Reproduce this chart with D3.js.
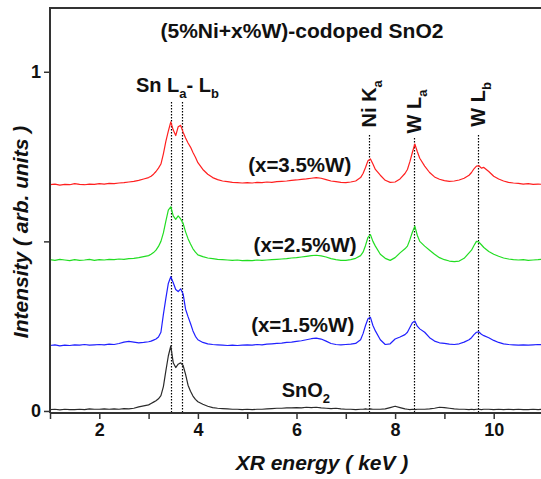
<!DOCTYPE html>
<html>
<head>
<meta charset="utf-8">
<script src="https://d3js.org/d3.v7.min.js"></script>
<style>
body { margin: 0; background: #fff; }
text { font-family: "Liberation Sans", Arial, sans-serif; font-weight: bold; fill: #111; }
</style>
</head>
<body>
<svg width="541" height="479"></svg>
<script>
// energy grid (keV), shared by all spectra
const energy = [
  1.0,1.1,1.2,1.3,1.4,1.5,1.6,1.7,1.8,1.9,2.0,2.1,2.2,2.3,2.4,2.5,2.6,2.7,2.8,2.9,
  3.0,3.05,3.1,3.15,3.2,3.25,3.3,3.35,3.4,3.45,3.5,3.55,3.6,3.65,3.7,3.75,3.8,3.85,3.9,3.95,4.0,
  4.1,4.2,4.3,4.4,4.5,4.6,4.7,4.8,4.9,5.0,5.1,5.2,5.3,5.4,5.5,5.6,5.7,5.8,5.9,6.0,6.1,6.2,6.3,6.4,6.5,6.6,6.7,6.8,6.9,7.0,7.1,7.2,7.3,
  7.35,7.4,7.45,7.5,7.55,7.6,
  7.7,7.8,7.9,8.0,8.1,8.2,
  8.25,8.3,8.35,8.4,8.45,8.5,
  8.6,8.7,8.8,8.9,9.0,9.1,9.2,9.3,9.4,9.5,
  9.55,9.6,9.65,9.7,9.75,9.8,
  9.9,10.0,10.1,10.2,10.3,10.4,10.5,10.6,10.7,10.8,10.9,11.0
];

const sno2 = [
  0.004,0.005,0.003,0.005,0.004,0.004,0.005,0.004,0.006,0.005,0.005,0.006,0.005,0.006,0.005,0.007,0.006,0.008,0.012,0.015,
  0.018,0.022,0.026,0.030,0.036,0.045,0.072,0.118,0.162,0.192,0.142,0.128,0.138,0.142,0.134,0.108,0.076,0.058,0.044,0.034,0.027,
  0.020,0.014,0.010,0.008,0.007,0.006,0.005,0.005,0.004,0.005,0.004,0.005,0.005,0.006,0.007,0.008,0.008,0.009,0.009,0.010,0.009,0.011,0.010,0.011,0.009,0.008,0.007,0.008,0.006,0.005,0.005,0.004,0.005,
  0.005,0.006,0.005,0.006,0.005,0.005,
  0.005,0.006,0.010,0.014,0.010,0.006,
  0.005,0.004,0.005,0.004,0.005,0.005,
  0.005,0.006,0.008,0.011,0.010,0.008,0.006,0.005,0.005,0.004,
  0.005,0.004,0.005,0.005,0.004,0.005,
  0.005,0.004,0.005,0.004,0.005,0.004,0.005,0.004,0.004,0.005,0.004,0.005
];

const w15 = [
  0.193,0.195,0.192,0.194,0.193,0.195,0.194,0.196,0.194,0.195,0.196,0.195,0.197,0.196,0.199,0.203,0.205,0.203,0.201,0.202,
  0.204,0.206,0.209,0.212,0.218,0.232,0.285,0.332,0.376,0.396,0.378,0.358,0.352,0.360,0.345,0.300,0.278,0.258,0.236,0.220,0.210,
  0.202,0.198,0.196,0.195,0.194,0.193,0.194,0.193,0.194,0.195,0.194,0.196,0.195,0.197,0.198,0.199,0.200,0.202,0.203,0.205,0.207,0.210,0.213,0.215,0.212,0.206,0.199,0.196,0.195,0.196,0.197,0.199,0.210,
  0.228,0.252,0.272,0.276,0.252,0.236,
  0.210,0.196,0.198,0.212,0.218,0.225,
  0.232,0.246,0.260,0.265,0.250,0.242,
  0.232,0.216,0.206,0.201,0.199,0.197,0.196,0.198,0.203,0.210,
  0.216,0.225,0.232,0.233,0.226,0.222,
  0.216,0.208,0.202,0.198,0.196,0.195,0.194,0.195,0.194,0.195,0.196,0.195
];

const w25 = [
  0.446,0.444,0.447,0.445,0.443,0.446,0.444,0.445,0.447,0.444,0.446,0.445,0.447,0.446,0.448,0.447,0.449,0.450,0.452,0.455,
  0.458,0.462,0.467,0.474,0.485,0.500,0.525,0.560,0.592,0.602,0.575,0.565,0.575,0.566,0.553,0.528,0.508,0.492,0.478,0.468,0.460,
  0.455,0.451,0.449,0.447,0.446,0.445,0.444,0.445,0.443,0.444,0.443,0.445,0.444,0.445,0.446,0.447,0.448,0.449,0.451,0.452,0.454,0.456,0.458,0.459,0.457,0.454,0.449,0.446,0.444,0.444,0.446,0.450,0.458,
  0.468,0.488,0.512,0.520,0.500,0.486,
  0.462,0.450,0.444,0.452,0.466,0.478,
  0.486,0.505,0.527,0.545,0.518,0.500,
  0.486,0.474,0.462,0.452,0.446,0.442,0.440,0.442,0.450,0.466,
  0.474,0.488,0.500,0.498,0.490,0.482,
  0.470,0.462,0.456,0.451,0.448,0.446,0.445,0.446,0.444,0.445,0.446,0.448
];

const w35 = [
  0.667,0.669,0.666,0.668,0.667,0.670,0.668,0.667,0.669,0.668,0.670,0.669,0.671,0.670,0.672,0.673,0.675,0.677,0.680,0.684,
  0.688,0.692,0.698,0.706,0.716,0.728,0.758,0.795,0.825,0.852,0.828,0.812,0.838,0.842,0.822,0.805,0.790,0.778,0.762,0.748,0.732,
  0.712,0.698,0.688,0.682,0.678,0.676,0.674,0.673,0.672,0.673,0.672,0.674,0.673,0.675,0.674,0.676,0.677,0.678,0.680,0.681,0.683,0.684,0.686,0.688,0.686,0.682,0.678,0.676,0.674,0.673,0.675,0.678,0.688,
  0.700,0.718,0.738,0.743,0.728,0.712,
  0.695,0.680,0.674,0.675,0.684,0.700,
  0.712,0.735,0.762,0.787,0.765,0.745,
  0.722,0.703,0.690,0.683,0.679,0.677,0.678,0.681,0.686,0.695,
  0.703,0.714,0.722,0.723,0.716,0.718,
  0.706,0.692,0.684,0.678,0.674,0.672,0.671,0.669,0.670,0.668,0.669,0.668
];

// emission line markers (keV) and where their dotted guides start
const lineEnergy = [3.46, 3.68, 7.48, 8.39, 9.68];
const lineTop = [0.91, 0.91, 0.815, 0.806, 0.815];

const xTicks = [1, 2, 3, 4, 5, 6, 7, 8, 9, 10, 11];
const xTickLabels = ["", "2", "", "4", "", "6", "", "8", "", "10", ""];
const yTicks = [0, 0.5, 1];
const yTickLabels = ["0", "", "1"];

const svg = d3.select("svg");
const x = d3.scaleLinear().domain([1, 11]).range([50, 543]);
const y = d3.scaleLinear().domain([-0.006, 1.188]).range([413, 8]);

svg.append("defs").append("clipPath").attr("id", "plot")
  .append("rect").attr("x", 50).attr("y", 8).attr("width", 493).attr("height", 405);

const line = d3.line()
  .x((d, i) => x(energy[i]))
  .y(d => y(d));

const spectra = [
  { vals: sno2, color: "#2a2a2a" },
  { vals: w15, color: "#2020ff" },
  { vals: w25, color: "#22dd22" },
  { vals: w35, color: "#ff1f1f" }
];

const g = svg.append("g").attr("clip-path", "url(#plot)");

// dotted guides for the emission lines
g.selectAll(".guide")
  .data(lineEnergy)
  .enter().append("line")
  .attr("x1", d => Math.round(x(d)) + 0.5)
  .attr("x2", d => Math.round(x(d)) + 0.5)
  .attr("y1", (d, i) => Math.round(y(lineTop[i])))
  .attr("y2", y(-0.006))
  .attr("stroke", "#000")
  .attr("stroke-width", 1.2)
  .attr("stroke-dasharray", "1.5,1.5");

g.selectAll(".spec")
  .data(spectra)
  .enter().append("path")
  .attr("d", d => line(d.vals))
  .attr("fill", "none")
  .attr("stroke", d => d.color)
  .attr("stroke-width", 1.2)
  .attr("stroke-linejoin", "round");

// axes
const axisColor = "#333";
const xAxis = svg.append("g").attr("transform", "translate(0," + y(-0.006) + ")")
  .call(d3.axisBottom(x).tickValues(xTicks).tickSize(6).tickPadding(4)
    .tickFormat((d, i) => xTickLabels[i]));
const yAxis = svg.append("g").attr("transform", "translate(" + x(1) + ",0)")
  .call(d3.axisLeft(y).tickValues(yTicks).tickSize(6).tickPadding(3)
    .tickFormat((d, i) => yTickLabels[i]));

[xAxis, yAxis].forEach(a => {
  a.select(".domain").attr("stroke", axisColor).attr("stroke-width", 2);
  a.selectAll(".tick line").attr("stroke", axisColor).attr("stroke-width", 1.5);
  a.selectAll(".tick text").style("font-size", "18px").style("font-family", "'Liberation Sans', Arial, sans-serif")
    .style("font-weight", "bold").attr("fill", "#111");
});
xAxis.select(".domain").attr("d", "M50,0H543");
yAxis.select(".domain").attr("d", "M0," + y(1.188) + "V" + y(-0.006));

// top frame
svg.append("line").attr("x1", 49).attr("x2", 543).attr("y1", y(1.188)).attr("y2", y(1.188))
  .attr("stroke", axisColor).attr("stroke-width", 2);

// title
svg.append("text").attr("x", 302).attr("y", 38).attr("text-anchor", "middle")
  .style("font-size", "21px").text("(5%Ni+x%W)-codoped SnO2");

// axis titles
svg.append("text").attr("x", 322).attr("y", 470).attr("text-anchor", "middle")
  .style("font-size", "21px").style("font-style", "italic").text("XR energy ( keV )");
svg.append("text").attr("transform", "translate(28,232) rotate(-90)").attr("text-anchor", "middle")
  .style("font-size", "21px").style("font-style", "italic").text("Intensity ( arb. units )");

// series labels
const seriesLabels = ["(x=1.5%W)", "(x=2.5%W)", "(x=3.5%W)"];
const labelPos = [[5.08, 0.233], [5.13, 0.470], [5.02, 0.705]];
svg.selectAll(".slab").data(seriesLabels).enter().append("text")
  .attr("x", (d, i) => x(labelPos[i][0]))
  .attr("y", (d, i) => y(labelPos[i][1]))
  .style("font-size", "20.5px").text(d => d);

// SnO2 label with subscript
const sn = svg.append("text").attr("x", x(5.7)).attr("y", y(0.041)).style("font-size", "20px");
sn.append("tspan").text("SnO");
sn.append("tspan").attr("dy", 6).style("font-size", "13px").text("2");

// Sn La - Lb label
const snl = svg.append("text").attr("x", 136).attr("y", 92).style("font-size", "20px");
snl.append("tspan").text("Sn L");
snl.append("tspan").attr("dy", 6).style("font-size", "13px").text("a");
snl.append("tspan").attr("dy", -6).text("- L");
snl.append("tspan").attr("dy", 6).style("font-size", "13px").text("b");

// rotated peak labels
const peakLabels = [["Ni K", "a"], ["W L", "a"], ["W L", "b"]];
const peakBottom = [0.836, 0.818, 0.838];
peakLabels.forEach((p, i) => {
  const t = svg.append("text")
    .attr("transform", "translate(" + (x(lineEnergy[i + 2]) + 7) + "," + y(peakBottom[i]) + ") rotate(-90)")
    .style("font-size", "20px");
  t.append("tspan").text(p[0]);
  t.append("tspan").attr("dy", 6).style("font-size", "13px").text(p[1]);
});
</script>
</body>
</html>
